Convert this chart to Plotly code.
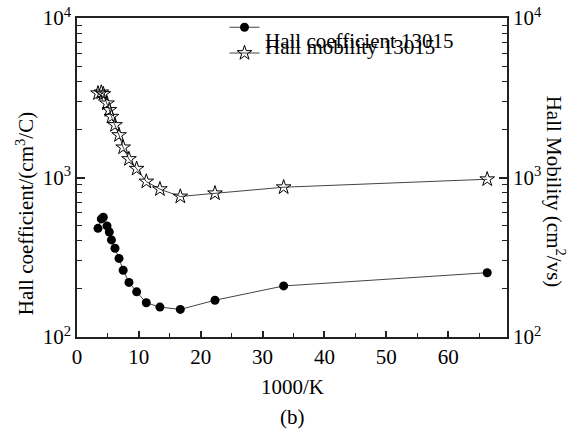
import plotly.graph_objects as go

# Data
inv_temp = [3.39, 3.93, 4.25, 4.85, 5.22, 5.57, 6.14, 6.79, 7.46, 8.40, 9.64, 11.2, 13.4, 16.7, 22.3, 33.4, 66.3]
hall_coeff = [480, 550, 563, 497, 455, 406, 360, 311, 262, 220, 192, 164, 154, 149, 170, 209, 253]
hall_mobility = [3374, 3415, 3335, 2917, 2650, 2405, 2133, 1845, 1545, 1305, 1135, 944, 845, 760, 796, 869, 975]

major_vals = [100, 1000, 10000]
major_text = ["10<sup>2</sup>", "10<sup>3</sup>", "10<sup>4</sup>"]
minor_vals = [m * d for d in (100, 1000) for m in range(2, 10)]

FONT = "Liberation Serif, Times New Roman, serif"
AX = "#222222"
FS = 21

fig = go.Figure()
fig.add_trace(go.Scatter(
    x=inv_temp, y=hall_coeff, mode="lines+markers", name=" ",
    line=dict(color="#444444", width=1),
    marker=dict(symbol="circle", size=9, color="black"),
    yaxis="y",
))
fig.add_trace(go.Scatter(
    x=inv_temp, y=hall_mobility, mode="lines+markers", name="  ",
    line=dict(color="#444444", width=1),
    marker=dict(symbol="star-open", size=11, color="black", line=dict(width=1)),
    yaxis="y2",
))

yax_common = dict(
    type="log", range=[2, 4], tickvals=major_vals, ticktext=major_text,
    ticks="inside", ticklen=8, tickwidth=1.5, tickcolor=AX,
    minor=dict(tickvals=minor_vals, ticks="inside", ticklen=5, tickwidth=1.2, tickcolor=AX),
    showgrid=False, zeroline=False, showline=True, linecolor=AX, linewidth=1.5,
    tickfont=dict(family=FONT, size=FS, color="black"), automargin=False,
)

fig.update_layout(
    width=574, height=430,
    margin=dict(l=77, r=67, t=18, b=93, autoexpand=False),
    paper_bgcolor="white", plot_bgcolor="white",
    font=dict(family=FONT, size=FS, color="black"),
    showlegend=True,
    legend=dict(x=0.343, y=1.027, xanchor="left", yanchor="top",
                bgcolor="rgba(0,0,0,0)", borderwidth=0,
                font=dict(family=FONT, size=17.5), tracegroupgap=0,
                itemwidth=30),
    xaxis=dict(
        range=[0, 69.5], tickvals=[0, 10, 20, 30, 40, 50, 60],
        ticks="inside", ticklen=6, tickwidth=1.5, tickcolor=AX,
        minor=dict(dtick=5, ticks="inside", ticklen=4, tickwidth=1.2, tickcolor=AX),
        showgrid=False, zeroline=False, showline=True, mirror=True,
        linecolor=AX, linewidth=1.5, automargin=False,
        tickfont=dict(family=FONT, size=FS, color="black"),
    ),
    yaxis=dict(side="left", **yax_common),
    yaxis2=dict(side="right", overlaying="y", **yax_common),
    annotations=[
        dict(text="1000/K", xref="paper", yref="paper", x=0.5, y=-0.156,
             xanchor="center", yanchor="middle", showarrow=False,
             font=dict(family=FONT, size=FS)),
        dict(text="(b)", xref="paper", yref="paper", x=0.5, y=-0.25,
             xanchor="center", yanchor="middle", showarrow=False,
             font=dict(family=FONT, size=FS)),
        dict(text="Hall coefficient/(cm<sup>3</sup>/C)", xref="paper", yref="paper",
             x=-0.12, y=0.386, xanchor="center", yanchor="middle", textangle=-90,
             showarrow=False, font=dict(family=FONT, size=FS)),
        dict(text="Hall Mobility (cm<sup>2</sup>/vs)", xref="paper", yref="paper",
             x=1.112, y=0.455, xanchor="center", yanchor="middle", textangle=90,
             showarrow=False, font=dict(family=FONT, size=FS)),
        dict(text="Hall coefficient 13015", xref="paper", yref="paper",
             x=0.433, y=0.928, xanchor="left", yanchor="middle",
             showarrow=False, font=dict(family=FONT, size=FS)),
        dict(text="Hall mobility 13015", xref="paper", yref="paper",
             x=0.433, y=0.909, xanchor="left", yanchor="middle",
             showarrow=False, font=dict(family=FONT, size=FS)),
    ],
)

fig.write_html("out.html", config={"displayModeBar": False},
               post_script="document.body.style.margin='0px';")
